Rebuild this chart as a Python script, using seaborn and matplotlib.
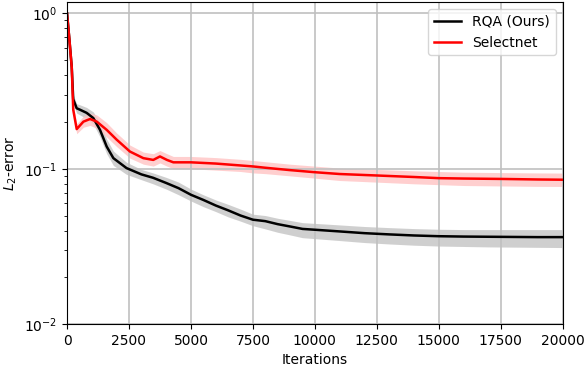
import numpy as np
import pandas as pd
import matplotlib
matplotlib.use("Agg")
import matplotlib.pyplot as plt
import seaborn as sns

# values (log-scale L2 error vs iterations)
rqa_iter = [0, 95, 190, 250, 390, 520, 790, 1060, 1330, 1600, 1870, 2400, 3000, 3470, 4000, 4500,
            5000, 5500, 6000, 6500, 7000, 7500, 8000, 8500, 9000, 9500, 10000, 11000, 12000,
            13000, 14000, 15000, 16000, 17000, 18000, 19000, 20000]
rqa_mean = [1.0, 0.68, 0.45, 0.28, 0.245, 0.24, 0.229, 0.212, 0.178, 0.139, 0.117, 0.101, 0.092,
            0.0875, 0.081, 0.075, 0.068, 0.063, 0.058, 0.054, 0.05, 0.047, 0.046, 0.044, 0.0425,
            0.041, 0.0405, 0.0395, 0.0385, 0.0378, 0.0372, 0.0368, 0.0366, 0.0365, 0.0364,
            0.0363, 0.0363]
rqa_low = [0.97, 0.64, 0.42, 0.26, 0.228, 0.222, 0.21, 0.194, 0.16, 0.125, 0.105, 0.092, 0.085,
           0.08, 0.074, 0.068, 0.062, 0.057, 0.053, 0.049, 0.046, 0.043, 0.041, 0.039, 0.0375,
           0.036, 0.0355, 0.0345, 0.0335, 0.0328, 0.0322, 0.0318, 0.0316, 0.0314, 0.0313,
           0.0312, 0.0311]
rqa_high = [1.03, 0.72, 0.48, 0.3, 0.262, 0.258, 0.248, 0.232, 0.198, 0.155, 0.13, 0.11, 0.099,
            0.094, 0.088, 0.082, 0.074, 0.068, 0.063, 0.059, 0.055, 0.051, 0.05, 0.048, 0.0465,
            0.045, 0.0445, 0.0435, 0.0425, 0.0418, 0.0412, 0.0408, 0.0406, 0.0406, 0.0406,
            0.0406, 0.0406]

sel_iter = [0, 95, 190, 250, 390, 660, 930, 1200, 1600, 2000, 2540, 3080, 3480, 3750, 4030, 4290,
            5000, 6000, 7000, 7500, 8000, 9000, 10000, 11000, 12500, 14000, 15000, 16000, 17500,
            19000, 20000]
sel_mean = [1.0, 0.68, 0.45, 0.24, 0.18, 0.201, 0.209, 0.201, 0.178, 0.154, 0.129, 0.117, 0.114,
            0.12, 0.114, 0.11, 0.11, 0.108, 0.105, 0.1035, 0.1015, 0.098, 0.095, 0.0925, 0.0905,
            0.0885, 0.087, 0.0865, 0.086, 0.0853, 0.085]
sel_low = [0.97, 0.64, 0.42, 0.225, 0.168, 0.185, 0.19, 0.182, 0.16, 0.139, 0.117, 0.107, 0.104,
           0.109, 0.104, 0.1, 0.1, 0.098, 0.096, 0.094, 0.093, 0.09, 0.087, 0.084, 0.082, 0.08,
           0.079, 0.078, 0.0775, 0.077, 0.0769]
sel_high = [1.03, 0.72, 0.48, 0.26, 0.195, 0.218, 0.228, 0.222, 0.198, 0.17, 0.142, 0.128, 0.125,
            0.131, 0.125, 0.12, 0.12, 0.118, 0.115, 0.113, 0.111, 0.107, 0.104, 0.101, 0.099,
            0.097, 0.096, 0.095, 0.0945, 0.094, 0.0938]

rqa = pd.DataFrame({"it": rqa_iter, "err": rqa_mean})
sel = pd.DataFrame({"it": sel_iter, "err": sel_mean})

fig, ax = plt.subplots(figsize=(5.88, 3.7), dpi=100)
fig.subplots_adjust(left=0.114, right=0.957, top=0.994, bottom=0.124)

ax.fill_between(rqa_iter, rqa_low, rqa_high, color="#c4c4c4", alpha=0.8, lw=0)
ax.fill_between(sel_iter, sel_low, sel_high, color="#ffc4c4", alpha=0.8, lw=0)
sns.lineplot(data=rqa, x="it", y="err", color="black", lw=1.8, label="RQA (Ours)", ax=ax)
sns.lineplot(data=sel, x="it", y="err", color="red", lw=1.8, label="Selectnet", ax=ax)

ax.set_yscale("log")
ax.set_xlim(0, 20000)
ax.set_ylim(0.01, 1.18)
ax.grid(True, which="major", color="#c0c0c0", lw=1.2)
ax.set_xlabel("Iterations")
ax.set_ylabel("$L_2$-error")
ax.legend(loc="upper right")

fig.savefig("out.png", dpi=100)
